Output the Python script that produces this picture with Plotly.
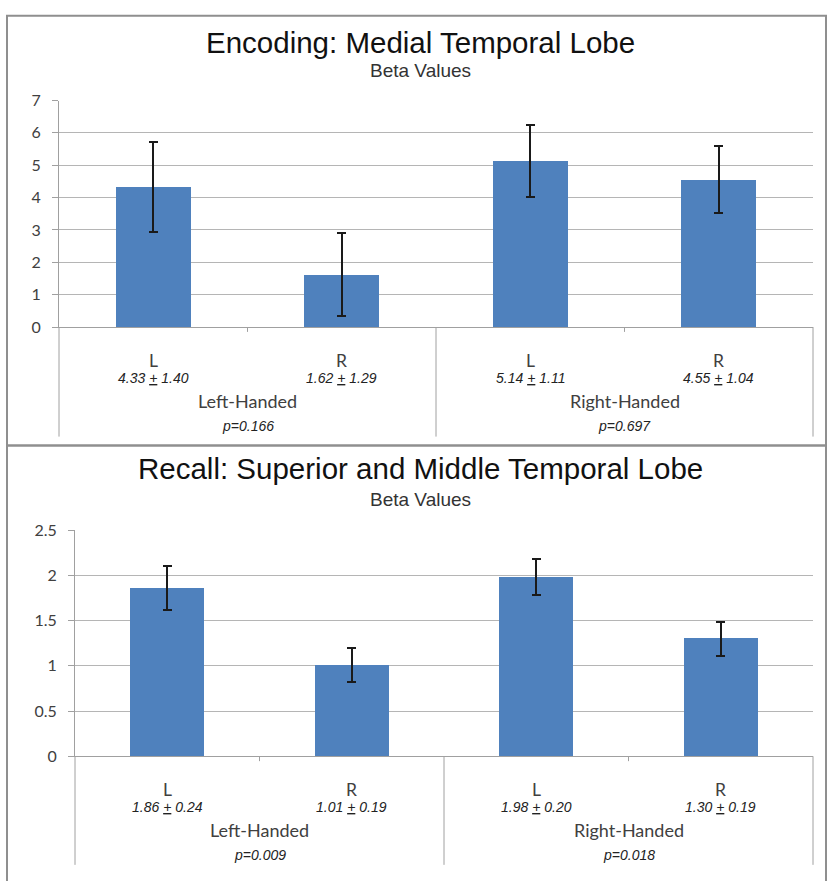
import plotly.graph_objects as go

# ---------------- data ----------------
groups = ["Left-Handed", "Left-Handed", "Right-Handed", "Right-Handed"]
sides = ["L", "R", "L", "R"]

enc_title = "Encoding: Medial Temporal Lobe"
enc_mean = [4.33, 1.62, 5.14, 4.55]
enc_se = [1.40, 1.29, 1.11, 1.04]
enc_p = ["p=0.166", "p=0.697"]
enc_yticks = [0, 1, 2, 3, 4, 5, 6, 7]

rec_title = "Recall: Superior and Middle Temporal Lobe"
rec_mean = [1.86, 1.01, 1.98, 1.30]
rec_se = [0.24, 0.19, 0.20, 0.19]
rec_p = ["p=0.009", "p=0.018"]
rec_yticks = [0, 0.5, 1, 1.5, 2, 2.5]

subtitle = "Beta Values"

# ---------------- layout helpers ----------------
W, H = 831, 881
BAR = "#4f81bd"
GRID = "#b5b5b5"
AXC = "#a0a0a0"
TXT = "#404040"
TFONT = "Liberation Sans, Arial, sans-serif"
CFONT = "Lato, Calibri, sans-serif"


def px(x):
    """screen x pixel -> paper fraction"""
    return x / W


def py(y):
    """screen y pixel -> paper fraction"""
    return 1 - y / H


fig = go.Figure()
xi = list(range(len(sides)))
xr = [-0.5, len(xi) - 0.5]
group_names = []
for g in groups:
    if g not in group_names:
        group_names.append(g)
group_pos = [sum(i for i, gg in enumerate(groups) if gg == g) / groups.count(g) for g in group_names]
bounds = [-0.5] + [i + 0.5 for i in range(len(groups) - 1) if groups[i] != groups[i + 1]] + [len(groups) - 0.5]
minor = [i + 0.5 for i in range(len(groups) - 1) if groups[i] == groups[i + 1]]

panels = [
    dict(title=enc_title, mean=enc_mean, se=enc_se, p=enc_p, yt=enc_yticks,
         xpx=(59, 813), ypx=(324, 92.5), title_y=33, sub_y=62,
         box=(6, 445), divlen=112, xa="x", ya="y"),
    dict(title=rec_title, mean=rec_mean, se=rec_se, p=rec_p, yt=rec_yticks,
         xpx=(75, 813), ypx=(762.7, 531.7), title_y=469, sub_y=500,
         box=(445, 900), divlen=111, xa="x2", ya="y2"),
]

shapes = []
annotations = []
for k, pnl in enumerate(panels):
    sfx = "" if k == 0 else str(k + 1)
    xdom = [px(pnl["xpx"][0]), px(pnl["xpx"][1])]
    ydom = [py(pnl["ypx"][0]), py(pnl["ypx"][1])]
    fig.add_trace(go.Bar(
        x=xi, y=pnl["mean"], width=0.4, marker=dict(color=BAR, line=dict(width=0)),
        error_y=dict(type="data", array=pnl["se"], visible=True, color="#1a1a1a",
                     thickness=2, width=4.5),
        xaxis=pnl["xa"], yaxis=pnl["ya"], showlegend=False, hoverinfo="skip"))

    fig.update_layout(**{
        "xaxis" + sfx: dict(domain=xdom, range=xr, showgrid=False,
                            zeroline=False, showline=True, linecolor=AXC, linewidth=1,
                            showticklabels=False, ticks="", anchor=pnl["ya"], fixedrange=True),
        "yaxis" + sfx: dict(domain=ydom, range=[0, pnl["yt"][-1]], tickvals=pnl["yt"],
                            showgrid=True, gridcolor=GRID, gridwidth=1, zeroline=False,
                            showline=True, linecolor=AXC, linewidth=1, ticks="outside",
                            ticklen=6, tickcolor=AXC, ticklabelstandoff=8,
                            tickfont=dict(family=CFONT, size=16, color=TXT),
                            anchor=pnl["xa"], fixedrange=True),
    })

    def xpaper(v):
        return xdom[0] + (v - xr[0]) / (xr[1] - xr[0]) * (xdom[1] - xdom[0])

    y0 = ydom[0]
    # multi-level category axis lines
    for b in bounds:
        shapes.append(dict(type="line", xref="paper", yref="paper",
                           x0=xpaper(b), x1=xpaper(b), y0=y0, y1=y0 - pnl["divlen"] / H,
                           line=dict(color=AXC, width=1)))
    for m in minor:
        shapes.append(dict(type="line", xref="paper", yref="paper",
                           x0=xpaper(m), x1=xpaper(m), y0=y0, y1=y0 - 5 / H,
                           line=dict(color=AXC, width=1)))

    # border of the chart area
    shapes.append(dict(type="rect", xref="paper", yref="paper", x0=px(7), x1=px(826),
                       y0=py(pnl["box"][1]), y1=py(pnl["box"][0]),
                       line=dict(color="#8f8f8f", width=2), layer="below"))

    # titles
    annotations.append(dict(text=pnl["title"], xref="paper", yref="paper", x=px(420),
                            y=py(pnl["title_y"]), yanchor="middle", showarrow=False,
                            font=dict(family=TFONT, size=29.5, color="#111111")))
    annotations.append(dict(text=subtitle, xref="paper", yref="paper", x=px(420),
                            y=py(pnl["sub_y"]), yanchor="middle", showarrow=False,
                            font=dict(family=TFONT, size=19, color="#333333")))

    # category labels
    for i, (s, m, e) in enumerate(zip(sides, pnl["mean"], pnl["se"])):
        annotations.append(dict(text=s, xref=pnl["xa"], yref=pnl["ya"], x=i, y=0,
                                yanchor="middle", yshift=-33, showarrow=False,
                                font=dict(family=CFONT, size=17.5, color=TXT)))
        annotations.append(dict(text=f"<i>{m:.2f} <u>+</u> {e:.2f}</i>", xref=pnl["xa"],
                                yref=pnl["ya"], x=i, y=0, yanchor="middle", yshift=-51,
                                showarrow=False,
                                font=dict(family=TFONT, size=14, color="#222222")))
    for gname, gx, pv in zip(group_names, group_pos, pnl["p"]):
        annotations.append(dict(text=gname, xref=pnl["xa"], yref=pnl["ya"], x=gx, y=0,
                                yanchor="middle", yshift=-74, showarrow=False,
                                font=dict(family=CFONT, size=18, color=TXT)))
        annotations.append(dict(text=f"<i>{pv}</i>", xref=pnl["xa"], yref=pnl["ya"], x=gx,
                                y=0, yanchor="middle", yshift=-99, showarrow=False,
                                font=dict(family=TFONT, size=14, color="#222222")))

fig.update_layout(width=W, height=H, margin=dict(l=0, r=0, t=0, b=0),
                  paper_bgcolor="white", plot_bgcolor="white",
                  shapes=shapes, annotations=annotations, bargap=0)

fig.write_html("out.html", config={"displayModeBar": False},
               post_script="document.body.style.margin='0';document.body.style.overflow='hidden';")
